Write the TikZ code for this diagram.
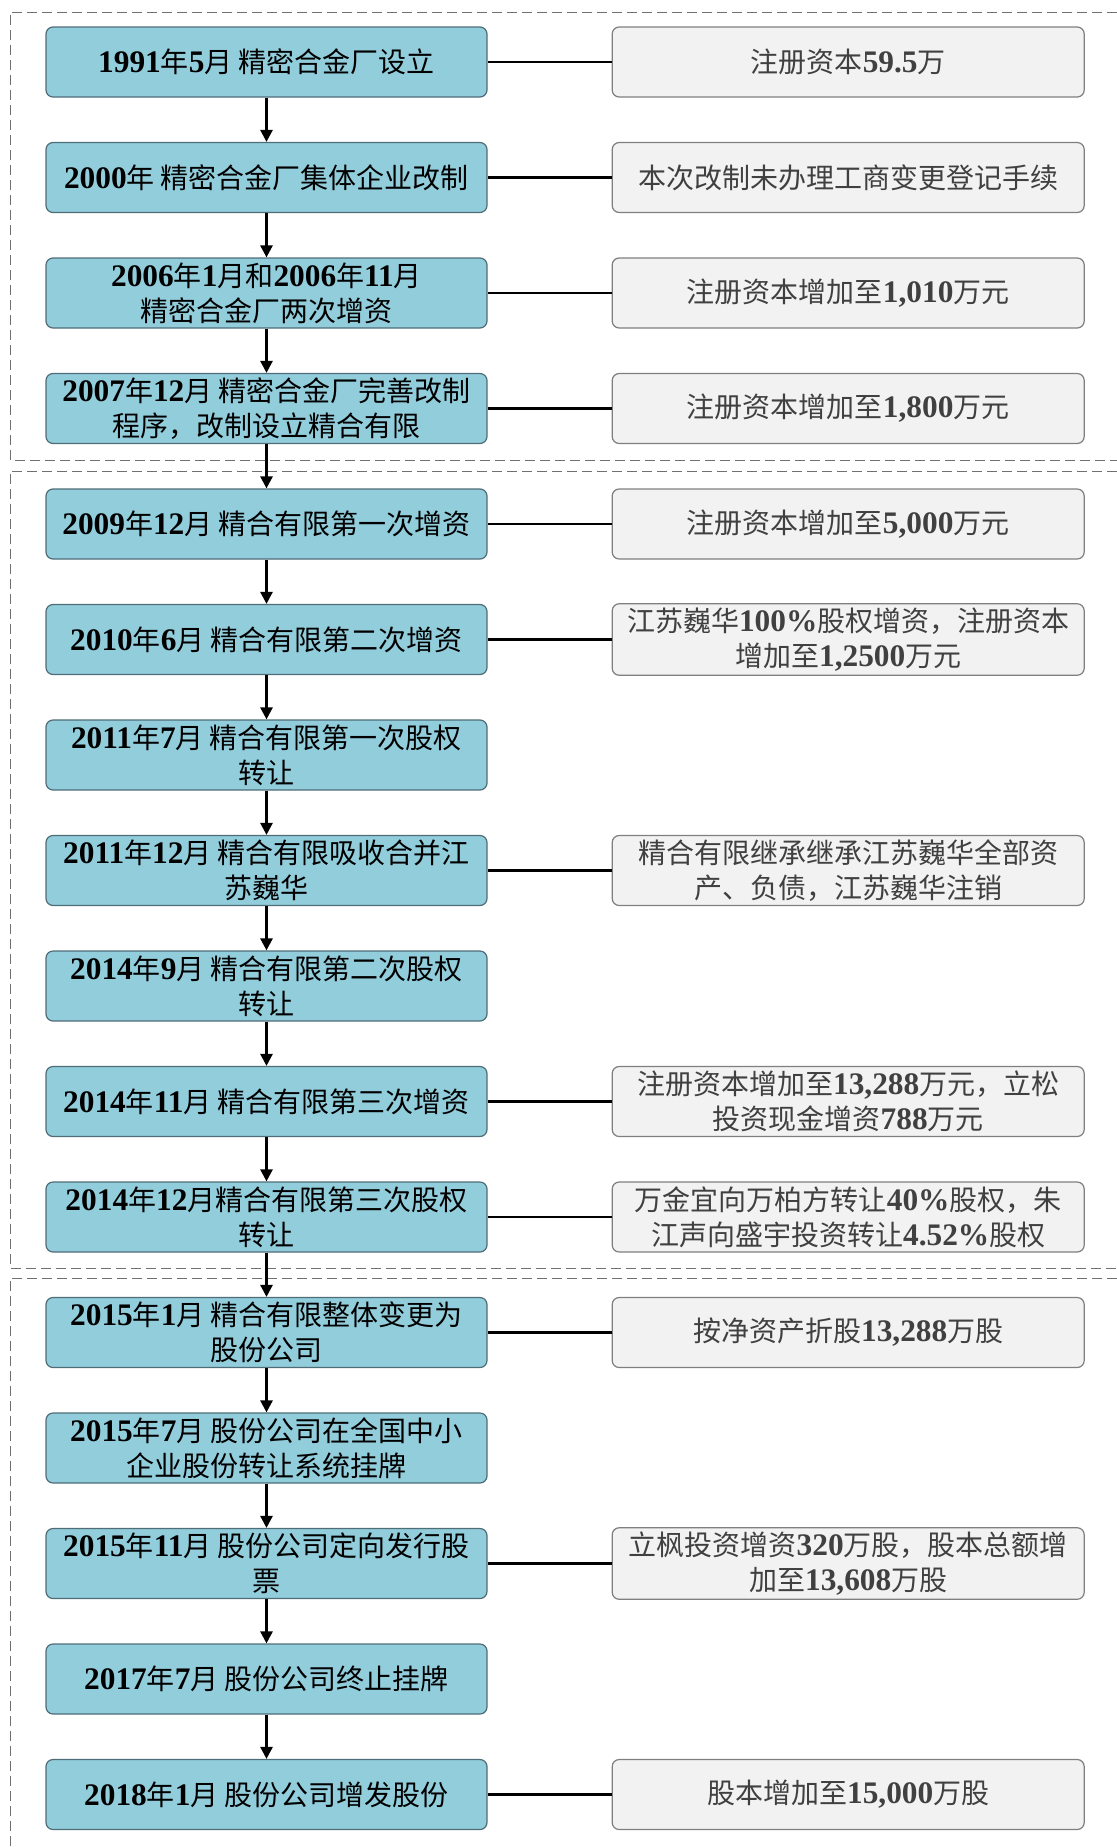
\documentclass[tikz,border=0pt]{standalone}
\usepackage{fontspec}
\newfontfamily\cjk{Noto Sans CJK SC}
\newfontfamily\dgfont[Scale=1.12]{Liberation Serif}
\newcommand\dg[1]{{\dgfont\bfseries #1}}
\usetikzlibrary{positioning,arrows.meta}

\definecolor{stepblue}{HTML}{92CDDC}
\definecolor{stepedge}{HTML}{4F6D77}
\definecolor{notefill}{HTML}{F2F2F2}
\definecolor{noteedge}{HTML}{7F7F7F}
\definecolor{notetext}{HTML}{404040}
\definecolor{framegray}{HTML}{707070}

\tikzset{
	event/.style={draw=stepedge, fill=stepblue, rounded corners=3.5pt, line width=0.6pt,
		minimum width=220.5pt, minimum height=35pt, inner sep=2pt, align=center,
		font=\cjk\fontsize{14}{17.5}\selectfont, text=black},
	note/.style={draw=noteedge, fill=notefill, rounded corners=3.5pt, line width=0.6pt,
		minimum width=236pt, minimum height=35pt, inner sep=2pt, align=center,
		font=\cjk\fontsize{14}{17.5}\selectfont, text=notetext},
	arr/.style={-{Triangle[width=6pt,length=6pt]}, line width=1.3pt},
	link/.style={line width=1.3pt},
	frame/.style={draw=framegray, line width=0.5pt, dash pattern=on 5pt off 2.5pt}
}

\begin{document}
\begin{tikzpicture}[x=0.5pt, y=-0.5pt]
	\useasboundingbox (0,0) rectangle (1117,1847);
	% stage frames
	\draw[frame] (1117,12) -- (10,12) -- (10,460) -- (1117,460);
	\draw[frame] (1117,471) -- (10,471) -- (10,1268) -- (1117,1268);
	\draw[frame] (1117,1278) -- (10,1278) -- (10,1847);

	% main line of events
	\node[event] (e1) at (266.5,62) {\dg{1991}年\dg{5}月 精密合金厂设立};
	\node[event] (e2) at (266.5,177.5) {\dg{2000}年 精密合金厂集体企业改制};
	\node[event] (e3) at (266.5,293) {\dg{2006}年\dg{1}月和\dg{2006}年\dg{11}月\\精密合金厂两次增资};
	\node[event] (e4) at (266.5,408.5) {\dg{2007}年\dg{12}月 精密合金厂完善改制\\程序，改制设立精合有限};
	\node[event] (e5) at (266.5,524) {\dg{2009}年\dg{12}月 精合有限第一次增资};
	\node[event] (e6) at (266.5,639.5) {\dg{2010}年\dg{6}月 精合有限第二次增资};
	\node[event] (e7) at (266.5,755) {\dg{2011}年\dg{7}月 精合有限第一次股权\\转让};
	\node[event] (e8) at (266.5,870.5) {\dg{2011}年\dg{12}月 精合有限吸收合并江\\苏巍华};
	\node[event] (e9) at (266.5,986) {\dg{2014}年\dg{9}月 精合有限第二次股权\\转让};
	\node[event] (e10) at (266.5,1101.5) {\dg{2014}年\dg{11}月 精合有限第三次增资};
	\node[event] (e11) at (266.5,1217) {\dg{2014}年\dg{12}月精合有限第三次股权\\转让};
	\node[event] (e12) at (266.5,1332.5) {\dg{2015}年\dg{1}月 精合有限整体变更为\\股份公司};
	\node[event] (e13) at (266.5,1448) {\dg{2015}年\dg{7}月 股份公司在全国中小\\企业股份转让系统挂牌};
	\node[event] (e14) at (266.5,1563.5) {\dg{2015}年\dg{11}月 股份公司定向发行股\\票};
	\node[event] (e15) at (266.5,1679) {\dg{2017}年\dg{7}月 股份公司终止挂牌};
	\node[event] (e16) at (266.5,1794.5) {\dg{2018}年\dg{1}月 股份公司增发股份};

	% notes
	\node[note, right=62pt of e1] (n1) {注册资本\dg{59.5}万};
	\node[note, right=62pt of e2] (n2) {本次改制未办理工商变更登记手续};
	\node[note, right=62pt of e3] (n3) {注册资本增加至\dg{1,010}万元};
	\node[note, right=62pt of e4] (n4) {注册资本增加至\dg{1,800}万元};
	\node[note, right=62pt of e5] (n5) {注册资本增加至\dg{5,000}万元};
	\node[note, right=62pt of e6] (n6) {江苏巍华\dg{100\%}股权增资，注册资本\\增加至\dg{1,2500}万元};
	\node[note, right=62pt of e8] (n8) {精合有限继承继承江苏巍华全部资\\产、负债，江苏巍华注销};
	\node[note, right=62pt of e10] (n10) {注册资本增加至\dg{13,288}万元，立松\\投资现金增资\dg{788}万元};
	\node[note, right=62pt of e11] (n11) {万金宜向万柏方转让\dg{40\%}股权，朱\\江声向盛宇投资转让\dg{4.52\%}股权};
	\node[note, right=62pt of e12] (n12) {按净资产折股\dg{13,288}万股};
	\node[note, right=62pt of e14] (n14) {立枫投资增资\dg{320}万股，股本总额增\\加至\dg{13,608}万股};
	\node[note, right=62pt of e16] (n16) {股本增加至\dg{15,000}万股};

	\foreach \i [evaluate=\i as \j using int(\i+1)] in {1,...,15}
		\draw[arr] (e\i) -- (e\j);
	\foreach \i in {1,2,3,4,5,6,8,10,11,12,14,16}
		\draw[link] (e\i) -- (n\i);
\end{tikzpicture}
\end{document}
